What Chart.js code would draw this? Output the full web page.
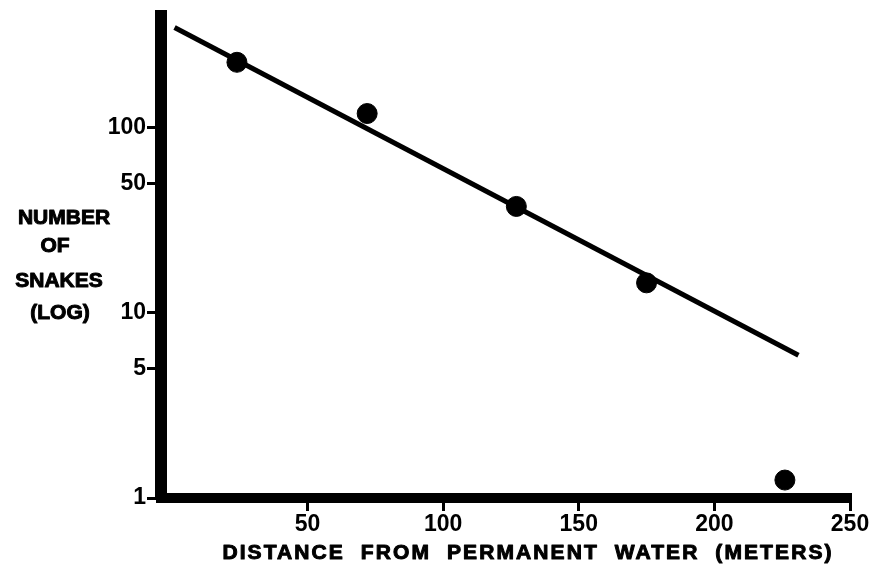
<!DOCTYPE html>
<html lang="en">
<head>
    <meta charset="UTF-8">
    <title>Snakes vs Distance from Water</title>
    <script src="https://cdn.jsdelivr.net/npm/chart.js"></script>
    <style>
        body {
            margin: 0;
            background-color: #fff;
        }

        .chart-box {
            position: relative;
            width: 872px;
            height: 565px;
        }
    </style>
</head>
<body>
    <div class="chart-box">
        <canvas id="snakeChart"></canvas>
    </div>

    <script>
        // Observed counts
        const distances = [24, 72, 127, 175, 226];
        const snakeCounts = [225, 119, 37.5, 14.5, 1.25];

        // Fitted regression line (two end points)
        const fitDistances = [1, 231];
        const fitCounts = [347, 5.9];

        // Tick labels
        const xTicks = [50, 100, 150, 200, 250];
        const yTicks = [1, 5, 10, 50, 100];

        const yTitleLines = ['NUMBER', 'OF', 'SNAKES', '(LOG)'];
        const xTitle = 'DISTANCE  FROM  PERMANENT  WATER  (METERS)';

        const tickFont = { family: 'Liberation Sans', size: 23, weight: 'bold' };

        // Heavy lettering: fill plus a thin stroke of the same colour
        function heavyText(ctx, text, x, y) {
            ctx.fillText(text, x, y);
            ctx.strokeText(text, x, y);
        }

        // Axis titles are drawn by hand so they can sit where the figure puts them
        const axisTitles = {
            id: 'axisTitles',
            afterDraw(chart) {
                const ctx = chart.ctx;
                ctx.save();
                ctx.fillStyle = '#000';
                ctx.strokeStyle = '#000';
                ctx.lineWidth = 1;
                ctx.lineJoin = 'round';
                ctx.textAlign = 'center';
                ctx.textBaseline = 'middle';
                ctx.font = 'bold 21px "Liberation Sans"';
                ctx.letterSpacing = '0px';
                const rows = [218, 246, 281, 313];
                const cols = [64, 55, 59, 60];
                yTitleLines.forEach((t, i) => heavyText(ctx, t, cols[i], rows[i]));

                ctx.letterSpacing = '2.1px';
                heavyText(ctx, xTitle, 528, 553);
                ctx.restore();
            }
        };

        new Chart(document.getElementById('snakeChart').getContext('2d'), {
            type: 'scatter',
            data: {
                datasets: [
                    {
                        label: 'Fit',
                        data: fitDistances.map((x, i) => ({ x: x, y: fitCounts[i] })),
                        showLine: true,
                        borderColor: '#000',
                        borderWidth: 5,
                        pointRadius: 0,
                        clip: false,
                    },
                    {
                        label: 'Observed',
                        data: distances.map((x, i) => ({ x: x, y: snakeCounts[i] })),
                        backgroundColor: '#000',
                        borderColor: '#000',
                        pointRadius: 10,
                        pointHoverRadius: 10,
                        clip: false,
                    },
                ],
            },
            options: {
                responsive: true,
                maintainAspectRatio: false,
                animation: false,
                layout: {
                    padding: { top: 16, right: 22, bottom: 0, left: 0 },
                },
                plugins: {
                    legend: { display: false },
                    tooltip: { enabled: false },
                },
                scales: {
                    x: {
                        type: 'linear',
                        min: -4,
                        max: 250,
                        afterBuildTicks: (scale) => {
                            scale.ticks = xTicks.map(v => ({ value: v }));
                        },
                        afterFit: (scale) => {
                            scale.height = 67;
                        },
                        border: { display: true, color: '#000', width: 10 },
                        grid: {
                            drawOnChartArea: false,
                            drawTicks: true,
                            tickLength: 13,
                            color: '#000',
                            lineWidth: 3,
                        },
                        ticks: {
                            color: '#000',
                            font: tickFont,
                            padding: 0,
                            maxRotation: 0,
                            callback: (v) => String(v),
                        },
                    },
                    y: {
                        type: 'logarithmic',
                        min: 1,
                        max: 400,
                        afterBuildTicks: (scale) => {
                            scale.ticks = yTicks.map(v => ({ value: v }));
                        },
                        afterFit: (scale) => {
                            scale.width = 161;
                        },
                        border: { display: true, color: '#000', width: 12 },
                        grid: {
                            drawOnChartArea: false,
                            drawTicks: true,
                            tickLength: 14,
                            color: '#000',
                            lineWidth: 3,
                        },
                        ticks: {
                            color: '#000',
                            font: tickFont,
                            padding: 1,
                            callback: (v) => String(v),
                        },
                    },
                },
            },
            plugins: [axisTitles],
        });
    </script>
</body>
</html>
